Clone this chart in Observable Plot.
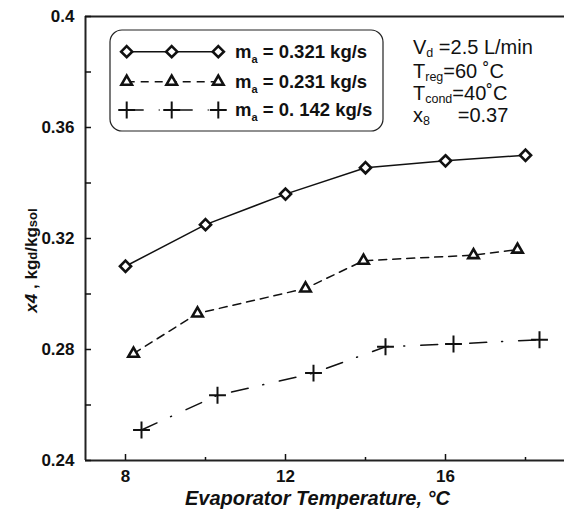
<!DOCTYPE html>
<html><head><meta charset="utf-8">
<script src="https://cdn.jsdelivr.net/npm/d3@7"></script>
<script src="https://cdn.jsdelivr.net/npm/@observablehq/plot@0.6"></script>
<style>
body{margin:0;background:#fff;}
#chart svg{font-family:"Liberation Sans",Arial,sans-serif;}
</style></head><body><div id="chart"></div>
<script>
// ---- data ----
const legendValues = ["0.321", "0.231", "0. 142"];
const temp1 = [8, 10, 12, 14, 16, 18];
const x4_1  = [0.310, 0.325, 0.336, 0.3455, 0.348, 0.350];
const temp2 = [8.2, 9.8, 12.5, 13.95, 16.7, 17.8];
const x4_2  = [0.2785, 0.293, 0.302, 0.312, 0.314, 0.316];
const temp3 = [8.4, 10.3, 12.7, 14.5, 16.2, 18.35];
const x4_3  = [0.251, 0.2635, 0.2715, 0.281, 0.282, 0.2835];
const xTicks = [8, 12, 16];
const xMinor = [10, 14, 18];
const yTicks = [0.24, 0.28, 0.32, 0.36, 0.4];
const yMinor = [0.26, 0.30, 0.34, 0.38];
const xDomain = [7, 18.975];
const yDomain = [0.24, 0.4];
const annot = [["V","d"," =2.5 L/min"],["T","reg","=60 \u02DAC"],["T","cond","=40\u02DAC"],["x","8","     =0.37"]];

const toRows = (ts, vs) => ts.map((t, i) => ({t, v: vs[i]}));
const d1 = toRows(temp1, x4_1), d2 = toRows(temp2, x4_2), d3s = toRows(temp3, x4_3);
const dash2 = "8,6", dash3 = "17,15,1,16";
const ink = "#111";

const chart = Plot.plot({
  width: 564, height: 509,
  marginTop: 16, marginBottom: 49, marginLeft: 85, marginRight: 0,
  x: {domain: xDomain}, y: {domain: yDomain},
  style: {fontFamily: "Liberation Sans, Arial, sans-serif", color: ink},
  marks: [
    Plot.ruleY(yDomain, {stroke: "#222", strokeWidth: 2}),
    Plot.ruleX([xDomain[0]], {stroke: "#222", strokeWidth: 2}),
    Plot.axisX(xTicks, {tickSize: -6, fill: "none", label: null, strokeWidth: 1.5}),
    Plot.axisX(xMinor, {tickSize: -3, fill: "none", label: null, strokeWidth: 1.5}),
    Plot.axisX(xTicks, {tickSize: 0, tickPadding: 9, label: null, fontSize: 17, fontWeight: "bold"}),
    Plot.axisY(yTicks, {tickSize: -6, fill: "none", label: null, strokeWidth: 1.5}),
    Plot.axisY(yMinor, {tickSize: -6, fill: "none", label: null, strokeWidth: 1.5}),
    Plot.axisY(yTicks, {tickSize: 0, tickPadding: 11, label: null, fontSize: 17, fontWeight: "bold", tickFormat: d => String(+d.toFixed(2))}),
    Plot.line(d1, {x: "t", y: "v", stroke: ink, strokeWidth: 1.5}),
    Plot.line(d2, {x: "t", y: "v", stroke: ink, strokeWidth: 1.5, strokeDasharray: dash2}),
    Plot.line(d3s, {x: "t", y: "v", stroke: ink, strokeWidth: 1.5, strokeDasharray: dash3}),
    Plot.dot(d1, {x: "t", y: "v", symbol: "diamond2", r: 5, stroke: ink, strokeWidth: 2.6, fill: "white"}),
    Plot.dot(d2, {x: "t", y: "v", symbol: "triangle2", r: 5, stroke: ink, strokeWidth: 2.6, fill: "white"}),
    Plot.dot(d3s, {x: "t", y: "v", symbol: "plus", r: 5.5, stroke: ink, strokeWidth: 2})
  ]
});
document.getElementById("chart").appendChild(chart);

const svg = d3.select(chart);
svg.selectAll("text").attr("font-weight", "bold").attr("font-size", 17).style("font-weight", "bold");

// ---- legend, annotation, titles (overlay) ----
const g = svg.append("g").attr("fill", ink).attr("text-anchor", "start");
g.append("rect").attr("x", 110).attr("y", 30).attr("width", 273).attr("height", 101).attr("rx", 12)
  .attr("fill", "none").attr("stroke", "#222").attr("stroke-width", 1.2);
const rowsY = [51.7, 81.7, 110];
const mxs = [126.7, 171.7, 218.3];
const symTypes = [d3.symbolDiamond2, d3.symbolTriangle2, d3.symbolPlus];
const symSizes = [Math.PI * 25, Math.PI * 25, Math.PI * 30.25];
const dashes = [null, dash2, dash3];
rowsY.forEach((y, i) => {
  g.append("line").attr("x1", mxs[0]).attr("x2", mxs[2]).attr("y1", y).attr("y2", y)
    .attr("stroke", ink).attr("stroke-width", 1.5).attr("stroke-dasharray", dashes[i]);
  mxs.forEach(x => {
    g.append("path").attr("d", d3.symbol().type(symTypes[i]).size(symSizes[i])())
      .attr("transform", `translate(${x},${y})`)
      .attr("fill", i === 2 ? "none" : "white").attr("stroke", ink).attr("stroke-width", i === 2 ? 2 : 2.6);
  });
  const t = g.append("text").attr("x", 235).attr("y", y + 6).attr("font-size", 18.5).attr("font-weight", "bold");
  t.append("tspan").text("m");
  t.append("tspan").attr("font-size", 11).attr("dy", 5).text("a");
  t.append("tspan").attr("dy", -5).text(" = " + legendValues[i] + " kg/s");
});
const annY = [54, 78, 100, 122];
annot.forEach((a, i) => {
  const t = g.append("text").attr("x", 413).attr("y", annY[i]).attr("font-size", 20).style("white-space", "pre");
  t.append("tspan").text(a[0]);
  t.append("tspan").attr("font-size", 12.5).attr("dy", 2.5).text(a[1]);
  t.append("tspan").attr("dy", -2.5).text(a[2]);
});
// y title
const yt = g.append("text").attr("transform", "translate(37,260.5) rotate(-90)")
  .attr("text-anchor", "middle").attr("font-size", 17).attr("font-weight", "bold");
yt.append("tspan").attr("font-style", "italic").text("x4");
yt.append("tspan").text(" , kg");
yt.append("tspan").attr("font-size", 13).text("d");
yt.append("tspan").text("/kg");
yt.append("tspan").attr("font-size", 13).text("sol");
// x title
g.append("text").attr("x", 317.5).attr("y", 504.5).attr("text-anchor", "middle")
  .attr("font-size", 20).attr("font-weight", "bold").attr("font-style", "italic")
  .text("Evaporator Temperature, \u00B0C");
</script></body></html>
